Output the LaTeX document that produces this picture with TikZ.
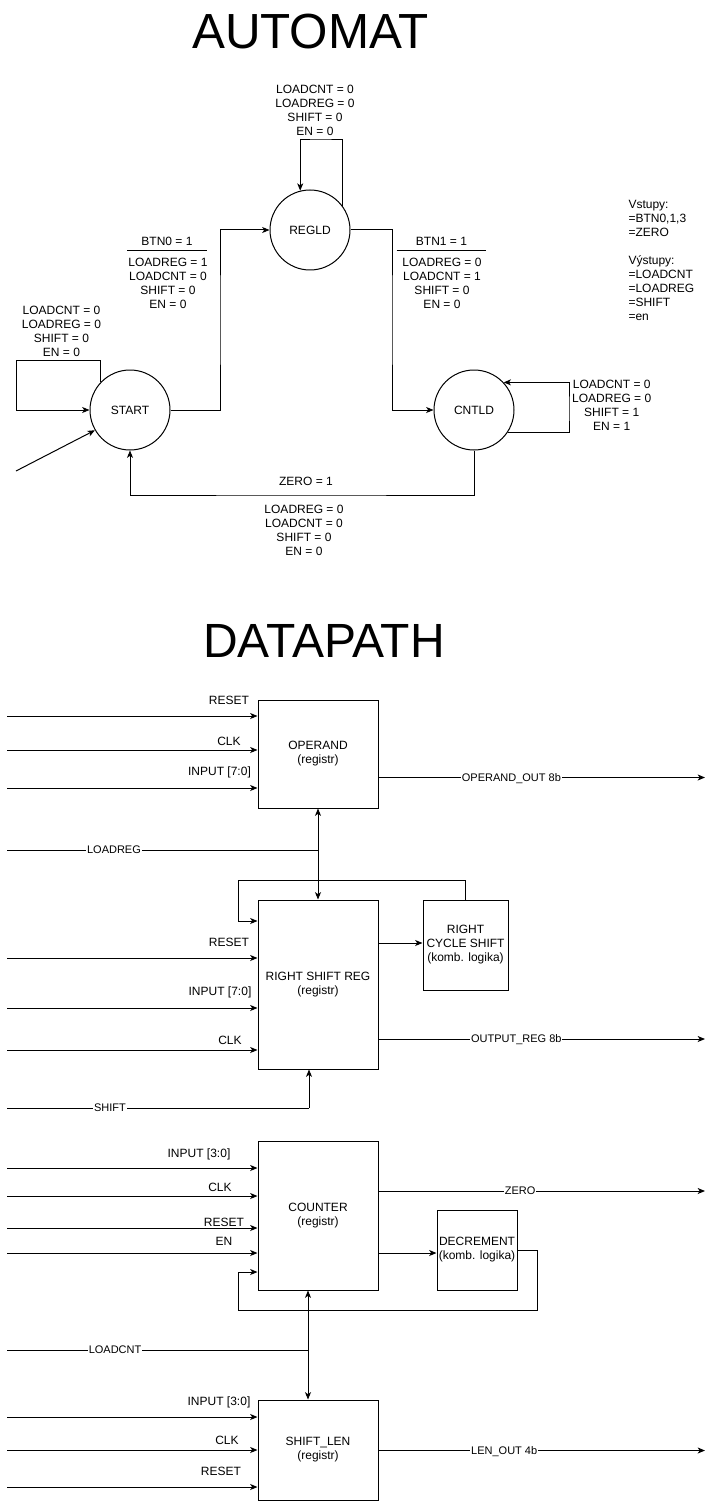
\documentclass[tikz,border=0pt]{standalone}
\usepackage{fontspec}
\setmainfont{Liberation Sans}
\usetikzlibrary{arrows.meta}
\begin{document}
\begin{tikzpicture}[x=0.75pt,y=-0.75pt,
  line width=0.75pt,
  arr/.style={-{Stealth[length=5.5pt,width=4.5pt,inset=1.5pt]}},
  txt/.style={font=\fontsize{9}{10.5}\selectfont, inner sep=0pt, align=center},
  lbl/.style={font=\fontsize{9}{10.5}\selectfont, inner sep=0pt, text height=6.4pt, text depth=0pt},
  st/.style={draw, circle, minimum size=60pt, inner sep=0pt, font=\fontsize{9}{10.5}\selectfont},
  blk/.style={draw, rectangle, inner sep=0pt, align=center, font=\fontsize{9}{10.5}\selectfont},
  elbl/.style={fill=white, inner sep=0.6pt, font=\fontsize{8.25}{9.5}\selectfont, text height=5.9pt, text depth=0pt},
  ttl/.style={inner sep=0pt, anchor=base}]

\useasboundingbox (0,0) rectangle (716,1501);

% ---------- titles
\node[ttl, font=\fontsize{37}{44}\selectfont] (tA) at (310.5,48.3) {AUTOMAT};
\node[ttl, font=\fontsize{36}{43}\selectfont] (tD) at (324,657.3) {DATAPATH};

% ---------- automaton states
\node[st] (REGLD) at (310,230) {REGLD};
\node[st] (START) at (130,410) {START};
\node[st] (CNTLD) at (474,410) {CNTLD};

% ---------- automaton texts
\node[txt, anchor=north] (tR) at (315,84.7) {LOADCNT = 0\\LOADREG = 0\\SHIFT = 0\\EN = 0};
\node[txt, anchor=north] (tS) at (61.5,305.7) {LOADCNT = 0\\LOADREG = 0\\SHIFT = 0\\EN = 0};
\node[lbl] (b0) at (167,241) {BTN0 = 1};
\draw (127,250.5) -- (206.5,250.5);
\node[txt, anchor=north] (tB0) at (168,257.2) {LOADREG = 1\\LOADCNT = 0\\SHIFT = 0\\EN = 0};
\node[lbl] (b1) at (441.5,241) {BTN1 = 1};
\draw (396.7,250.5) -- (486,250.5);
\node[txt, anchor=north] (tB1) at (442,257.2) {LOADREG = 0\\LOADCNT = 1\\SHIFT = 0\\EN = 0};
\node[txt, anchor=north] (tC) at (611.7,379.7) {LOADCNT = 0\\LOADREG = 0\\SHIFT = 1\\EN = 1};
\node[lbl] (z1) at (306,481.5) {ZERO = 1};
\node[txt, anchor=north] (tZ) at (304,505) {LOADREG = 0\\LOADCNT = 0\\SHIFT = 0\\EN = 0};
\node[txt, align=left, anchor=north west] (tIO) at (628,199.7) {Vstupy:\\=BTN0,1,3\\=ZERO\\[10.5pt]Výstupy:\\=LOADCNT\\=LOADREG\\=SHIFT\\=en};

% ---------- automaton edges
\coordinate (c1) at (569,410);
\draw[arr] (CNTLD.-33) -| (c1) |- (CNTLD.43);
\coordinate (c2) at (320,140);
\draw[arr] (REGLD.37) |- (c2) -| (REGLD.104);
\coordinate (c3) at (16.7,360.7);
\draw[arr] (START.136) |- (c3) |- (START.west);
\coordinate (init) at (16,471);
\draw[arr] (init) -- (START.210);
\coordinate (c4) at (220,320);
\draw[arr] (START.east) -| (c4) |- (REGLD.west);
\coordinate (c5) at (392,320);
\draw[arr] (REGLD.east) -| (c5) |- (CNTLD.west);
\coordinate (c6) at (300,495);
\draw[arr] (CNTLD.south) |- (c6) -| (START.south);

% ---------- datapath blocks
\node[blk, minimum width=90pt, minimum height=81pt] (OP) at (318,754) {OPERAND\\(registr)};
\node[blk, minimum width=90pt, minimum height=126.75pt] (RSR) at (318,984.5) {RIGHT SHIFT REG\\(registr)};
\node[blk, minimum width=63.75pt, minimum height=67.5pt] (RCS) at (465.5,945) {RIGHT\\CYCLE SHIFT\\(komb. logika)};
\node[blk, minimum width=90pt, minimum height=111.75pt] (CNT) at (318,1215.5) {COUNTER\\(registr)};
\node[blk, minimum width=60pt, minimum height=60pt] (DEC) at (477,1250) {DECREMENT\\(komb. logika)};
\node[blk, minimum width=90pt, minimum height=75pt] (SL) at (318,1450) {SHIFT\_LEN\\(registr)};

% ---------- OPERAND
\coordinate (iOP1) at (7,716);  \draw[arr] (iOP1) -- (iOP1 -| OP.west);
\coordinate (iOP2) at (7,750);  \draw[arr] (iOP2) -- (iOP2 -| OP.west);
\coordinate (iOP3) at (7,788);  \draw[arr] (iOP3) -- (iOP3 -| OP.west);
\node[lbl] (lOP1) at (229,700.7) {RESET};
\node[lbl] (lOP2) at (229,741) {CLK};
\node[lbl] (lOP3) at (219.5,771.7) {INPUT [7:0]};
\coordinate (oOP) at (705,777.5);
\draw[arr] (OP.east |- oOP) -- (oOP) node[elbl, pos=0.407] (lOPO) {OPERAND\_OUT 8b};

% ---------- LOADREG
\coordinate (iLR) at (7,850);
\coordinate (jLR) at (318,850);
\draw (iLR) -- (jLR) node[elbl, pos=0.344] (lLR) {LOADREG};
\draw[arr] (jLR) -- (OP.south);
\draw[arr] (jLR) -- (RSR.north);

% ---------- RIGHT SHIFT REG
\coordinate (f1) at (238,880);
\coordinate (f1b) at (238,921);
\draw[arr] (RCS.north) |- (f1) -- (f1b) -- (f1b -| RSR.west);
\coordinate (h1) at (400,943);
\draw[arr] (RSR.east |- h1) -- (RCS.west |- h1);
\coordinate (iR1) at (7,958);   \draw[arr] (iR1) -- (iR1 -| RSR.west);
\coordinate (iR2) at (7,1008);  \draw[arr] (iR2) -- (iR2 -| RSR.west);
\coordinate (iR3) at (7,1050);  \draw[arr] (iR3) -- (iR3 -| RSR.west);
\node[lbl] (lR1) at (229,942.7) {RESET};
\node[lbl] (lR2) at (220,991.7) {INPUT [7:0]};
\node[lbl] (lR3) at (230,1040) {CLK};
\coordinate (oR) at (705,1039);
\draw[arr] (RSR.east |- oR) -- (oR) node[elbl, pos=0.422] (lRO) {OUTPUT\_REG 8b};
\coordinate (iSH) at (7,1108);
\coordinate (jSH) at (309,1108);
\draw (iSH) -- (jSH) node[elbl, pos=0.341] (lSH) {SHIFT};
\draw[arr] (jSH) -- (jSH |- RSR.south);

% ---------- COUNTER
\coordinate (iC1) at (7,1168);  \draw[arr] (iC1) -- (iC1 -| CNT.west);
\coordinate (iC2) at (7,1196);  \draw[arr] (iC2) -- (iC2 -| CNT.west);
\coordinate (iC3) at (7,1228);  \draw[arr] (iC3) -- (iC3 -| CNT.west);
\coordinate (iC4) at (7,1253);  \draw[arr] (iC4) -- (iC4 -| CNT.west);
\node[lbl] (lC1) at (199,1153) {INPUT [3:0]};
\node[lbl] (lC2) at (220,1187) {CLK};
\node[lbl] (lC3) at (224,1222) {RESET};
\node[lbl] (lC4) at (224,1241) {EN};
\coordinate (oC) at (705,1191);
\draw[arr] (CNT.east |- oC) -- (oC) node[elbl, pos=0.434] (lCO) {ZERO};
\coordinate (h2) at (400,1253);
\draw[arr] (CNT.east |- h2) -- (DEC.west |- h2);
\coordinate (g1) at (537,1310);
\coordinate (g2) at (238,1272);
\draw[arr] (DEC.east) -| (g1) -| (g2) -- (g2 -| CNT.west);

% ---------- LOADCNT
\coordinate (iLC) at (7,1350);
\coordinate (jLC) at (308,1350);
\draw (iLC) -- (jLC) node[elbl, pos=0.359] (lLC) {LOADCNT};
\draw[arr] (jLC) -- (jLC |- CNT.south);
\draw[arr] (jLC) -- (jLC |- SL.north);

% ---------- SHIFT_LEN
\coordinate (iS1) at (7,1417);  \draw[arr] (iS1) -- (iS1 -| SL.west);
\coordinate (iS2) at (7,1450);  \draw[arr] (iS2) -- (iS2 -| SL.west);
\coordinate (iS3) at (7,1487);  \draw[arr] (iS3) -- (iS3 -| SL.west);
\node[lbl] (lS1) at (219,1401.5) {INPUT [3:0]};
\node[lbl] (lS2) at (227,1440) {CLK};
\node[lbl] (lS3) at (221,1471) {RESET};
\coordinate (oS) at (705,1450.5);
\draw[arr] (SL.east |- oS) -- (oS) node[elbl, pos=0.385] (lSO) {LEN\_OUT 4b};
\end{tikzpicture}
\end{document}
